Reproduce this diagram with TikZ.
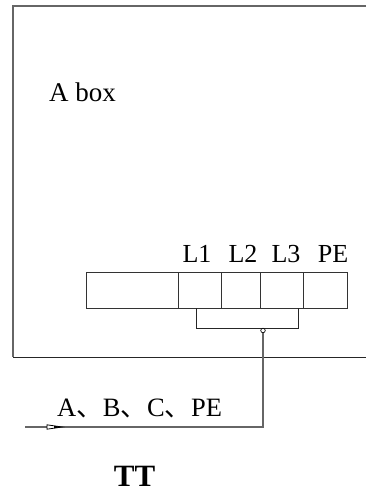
\documentclass[tikz,border=0pt]{standalone}
\usepackage{fontspec}
\setmainfont{Liberation Serif}
\newfontfamily\cjkfont{Noto Sans CJK SC}
\definecolor{wiregray}{gray}{0.4}
\tikzset{
  wire/.style={draw=black!85,line width=0.9pt},
  frameline/.style={draw=wiregray,line width=1.4pt},
  cell/.style={draw=black!80,line width=0.9pt,inner sep=0pt,minimum height=36pt,anchor=west},
  label/.style={inner sep=0pt,anchor=base,font=\fontsize{26}{26}\selectfont}
}
\begin{document}
\begin{tikzpicture}[x=1pt,y=-1pt]
  \useasboundingbox (0,0) rectangle (366,494);
  % outer box, open on the right
  \coordinate (tr) at (366,6);
  \coordinate (br) at (366,357);
  \draw[frameline] (tr) -- (13,6) -- (13,357);
  \draw[wire] (13,357) -- (br);
  \node[label,anchor=base west,font=\fontsize{27}{27}\selectfont] (boxname) at (49,101.5) {A box};
  % terminal strip
  \node[cell,minimum width=92pt] (blank) at (86,290) {};
  \node[cell,minimum width=43pt] (l1) at (178,290) {};
  \node[cell,minimum width=39pt] (l2) at (221,290) {};
  \node[cell,minimum width=43pt] (l3) at (260,290) {};
  \node[cell,minimum width=44pt] (pe) at (303,290) {};
  \node[label] (l1name) at (197,262) {L1};
  \node[label] (l2name) at (243,262) {L2};
  \node[label] (l3name) at (286,262) {L3};
  \node[label] (pename) at (333,262) {PE};
  % bridge and feed
  \coordinate (bl) at (196.5,308);
  \coordinate (br2) at (298,308);
  \draw[wire] (bl) -- (196.5,328) -- (298,328) -- (br2);
  \node[draw=black,fill=white,circle,line width=0.7pt,inner sep=0pt,minimum size=4.5pt] (junction) at (263,330.5) {};
  \coordinate (feed) at (25,427);
  \draw[frameline] (junction) -- (263,427) -- (feed);
  % arrow on the feed
  \draw[fill=white,draw=black,line width=0.8pt] (47,424.8) -- (62,427) -- (47,429.2) -- cycle;
  \fill[black] (54,425.8) -- (62,427) -- (54,428.2) -- cycle;
  \node[label,anchor=base west,font=\fontsize{26.5}{27}\selectfont] (feedname) at (57,416) {A{\cjkfont 、}B{\cjkfont 、}C{\cjkfont 、}PE};
  \node[label,font=\fontsize{31}{31}\selectfont\bfseries] (mode) at (134.5,486) {TT};
\end{tikzpicture}
\end{document}
